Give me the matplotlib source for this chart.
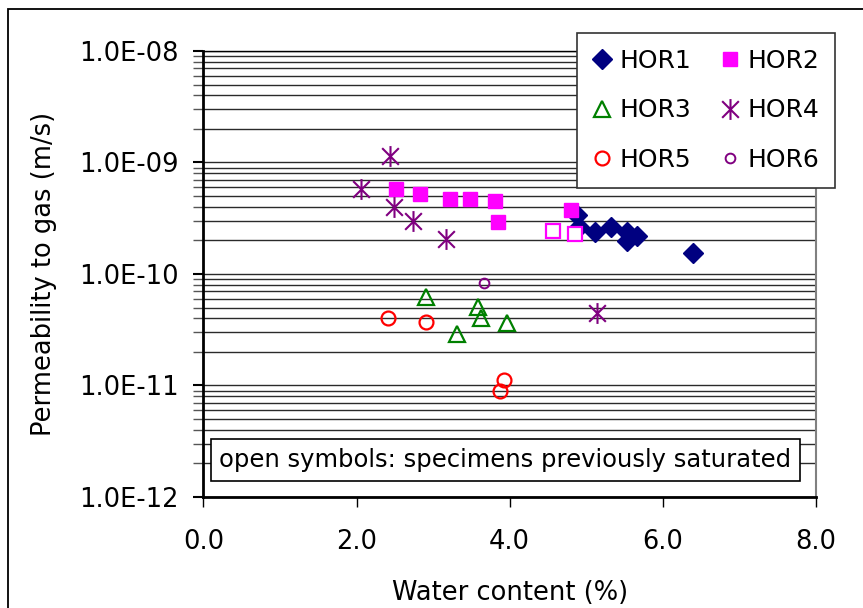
import numpy as np
import matplotlib
matplotlib.use("Agg")
import matplotlib.pyplot as plt
from matplotlib.path import Path
from matplotlib.patches import Rectangle
from matplotlib.ticker import FuncFormatter, LogLocator

# data
hor1_x = [4.88, 4.91, 5.11, 5.32, 5.53, 5.53, 5.66, 6.39]
hor1_y = [3.35e-10, 2.64e-10, 2.39e-10, 2.64e-10, 2.39e-10, 1.97e-10, 2.2e-10, 1.53e-10]

hor2_x = [2.51, 2.83, 3.22, 3.48, 3.81, 3.85, 4.80]
hor2_y = [5.77e-10, 5.21e-10, 4.71e-10, 4.71e-10, 4.49e-10, 2.9e-10, 3.76e-10]
hor2_open_x = [4.57, 4.85]
hor2_open_y = [2.41e-10, 2.26e-10]

hor3_x = [2.91, 3.58, 3.63, 3.96, 3.31]
hor3_y = [6.22e-11, 5.07e-11, 4.02e-11, 3.61e-11, 2.9e-11]

hor4_x = [2.43, 2.06, 2.49, 2.73, 3.17, 5.14]
hor4_y = [1.15e-9, 5.77e-10, 3.97e-10, 2.96e-10, 2.04e-10, 4.43e-11]

hor5_x = [2.41, 2.90, 3.92, 3.87]
hor5_y = [4.02e-11, 3.74e-11, 1.12e-11, 8.97e-12]

hor6_x = [3.66]
hor6_y = [8.38e-11]

x_ticks = [0, 2, 4, 6, 8]

# excel style asterisk: X plus vertical bar
star = Path([(-1, -1), (1, 1), (-1, 1), (1, -1), (0, -1.25), (0, 1.25)],
            [Path.MOVETO, Path.LINETO, Path.MOVETO, Path.LINETO, Path.MOVETO, Path.LINETO])

fig = plt.figure(figsize=(8.63, 6.08), dpi=100)
ax = fig.add_axes([0.2358, 0.1826, 0.7097, 0.7336])

h1, = ax.plot(hor1_x, hor1_y, 'D', color='#000080', ms=10, ls='none', label='HOR1')
h2, = ax.plot(hor2_x, hor2_y, 's', color='#FF00FF', ms=10, ls='none', label='HOR2')
ax.plot(hor2_open_x, hor2_open_y, 's', mfc='white', mec='#FF00FF', mew=1.6, ms=10, ls='none')
h3, = ax.plot(hor3_x, hor3_y, '^', mfc='none', mec='#008000', mew=1.6, ms=11, ls='none', label='HOR3')
h4, = ax.plot(hor4_x, hor4_y, marker=star, color='#800080', mew=1.5, ms=15, ls='none', label='HOR4')
h5, = ax.plot(hor5_x, hor5_y, 'o', mfc='none', mec='#FF0000', mew=1.6, ms=10, ls='none', label='HOR5')
h6, = ax.plot(hor6_x, hor6_y, 'o', mfc='none', mec='#800080', mew=1.4, ms=7, ls='none', label='HOR6')

ax.set_yscale('log')
ax.set_ylim(1e-12, 1e-8)
ax.set_xlim(0, 8)
ax.set_xticks(x_ticks)
ax.xaxis.set_major_formatter(FuncFormatter(lambda v, p: "%.1f" % v))
ax.yaxis.set_major_locator(LogLocator(base=10, numticks=10))
ax.yaxis.set_minor_locator(LogLocator(base=10, subs=np.arange(2, 10), numticks=20))
ax.yaxis.set_major_formatter(FuncFormatter(lambda v, p: "%.1E" % v))
ax.yaxis.set_minor_formatter(FuncFormatter(lambda v, p: ""))

ax.grid(True, which='both', axis='y', color='#2a2a2a', lw=1)
ax.set_axisbelow(True)

ax.tick_params(axis='both', which='both', direction='out', labelsize=18.5, color='black')
ax.tick_params(axis='y', which='major', length=7, width=1.5, pad=11)
ax.tick_params(axis='y', which='minor', length=7, width=1, color='#555555')
ax.tick_params(axis='x', which='major', length=7, width=1, pad=16)

ax.spines['left'].set_linewidth(2)
ax.spines['bottom'].set_linewidth(2)
ax.spines['right'].set_color('#808080')
ax.spines['right'].set_linewidth(1.5)
ax.spines['top'].set_linewidth(1)

ax.set_xlabel('Water content (%)', fontsize=18.5, labelpad=18)
ax.set_ylabel('Permeability to gas (m/s)', fontsize=18.5, labelpad=16)

ax.text(0.493, 0.083, 'open symbols: specimens previously saturated', transform=ax.transAxes,
        fontsize=17.5, ha='center', va='center',
        bbox=dict(boxstyle='square,pad=0.36', fc='white', ec='black', lw=1.2))

leg = ax.legend([h1, h3, h5, h2, h4, h6], ['HOR1', 'HOR3', 'HOR5', 'HOR2', 'HOR4', 'HOR6'],
                ncol=2, loc='upper left', bbox_to_anchor=(577 / 863, 1 - 33 / 608),
                bbox_transform=fig.transFigure, fontsize=18, frameon=True, fancybox=False,
                edgecolor='#333333', framealpha=1, borderpad=0.62, labelspacing=1.03,
                columnspacing=1.2, handletextpad=0.3, handlelength=0.76, borderaxespad=0)
leg.get_frame().set_linewidth(1.2)

fig.add_artist(Rectangle((8 / 863, -0.1), 1.2, 1.1 - 9 / 608, transform=fig.transFigure,
                         fill=False, ec='black', lw=1.3))

fig.savefig('out.png', dpi=100)
